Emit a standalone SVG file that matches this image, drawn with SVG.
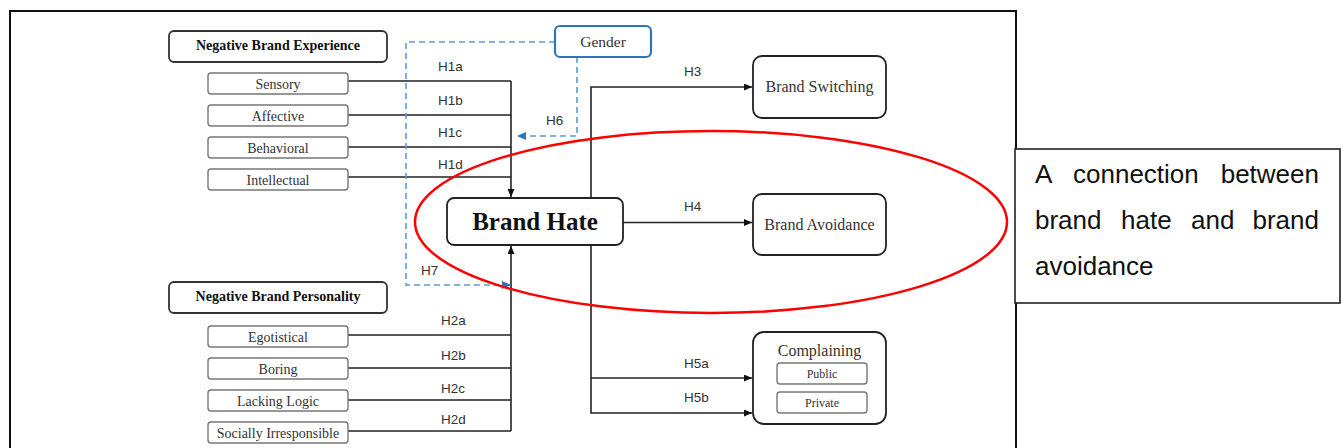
<svg xmlns="http://www.w3.org/2000/svg" width="1343" height="448" viewBox="0 0 1343 448">
  <style>
    .frame { fill: none; stroke: #111; stroke-width: 2; }
    .head { fill: #fff; stroke: #333; stroke-width: 1.8; }
    .item { fill: #fff; stroke: #777; stroke-width: 1.4; }
    .main { fill: #fff; stroke: #222; stroke-width: 1.8; }
    .gender { fill: #fff; stroke: #2e75b6; stroke-width: 2.2; }
    .serif { font-family: "Liberation Serif", "Times New Roman", serif; fill: #333; text-anchor: middle; }
    .hb { font-weight: bold; font-size: 14px; fill: #111; }
    .it { font-size: 14px; }
    .gt { font-size: 15.5px; }
    .big { font-size: 16px; }
    .sm { font-size: 12px; }
    .title { font-size: 25px; font-weight: bold; fill: #111; }
    .hl { font-family: "Liberation Sans", Arial, sans-serif; font-size: 13.5px; fill: #333; }
    .ln { fill: none; stroke: #222; stroke-width: 1.6; }
    .dash { fill: none; stroke: #5b9bd5; stroke-width: 1.6; stroke-dasharray: 6 4; }
    .note { font-family: "Liberation Sans", Arial, sans-serif; font-size: 26px; fill: #111; }
  </style>
  <defs>
    <marker id="arr" markerUnits="userSpaceOnUse" markerWidth="9" markerHeight="8" refX="8" refY="3.5" orient="auto">
      <path d="M0,0 L8,3.5 L0,7 z" fill="#111"/>
    </marker>
    <marker id="arrBlue" markerUnits="userSpaceOnUse" markerWidth="10" markerHeight="9" refX="9" refY="4" orient="auto">
      <path d="M0,0 L9,4 L0,8 z" fill="#2e75b6"/>
    </marker>
  </defs>

  <rect width="1343" height="448" fill="#fff"/>
  <!-- outer frame, open at the bottom -->
  <path class="frame" d="M10,460 V11 H1016 V460"/>

  <!-- connectors -->
  <g id="connectors">
    <path class="ln" d="M348,81 H511 M348,115 H511 M348,147 H511 M348,177 H511"/>
    <path class="ln" d="M511,81 V197" marker-end="url(#arr)"/>
    <path class="ln" d="M348,335 H511 M348,368 H511 M348,400 H511 M348,431 H511"/>
    <path class="ln" d="M511,431 V246" marker-end="url(#arr)"/>
    <path class="ln" d="M591,198 V87 H752" marker-end="url(#arr)"/>
    <path class="ln" d="M623,222.5 H752" marker-end="url(#arr)"/>
    <path class="ln" d="M591,245 V413 H752" marker-end="url(#arr)"/>
    <path class="ln" d="M591,378 H752" marker-end="url(#arr)"/>
    <path class="dash" d="M555,42 H406 V285 H511" marker-end="url(#arrBlue)"/>
    <path class="dash" d="M577,57 V136 H517" marker-end="url(#arrBlue)"/>
    <g class="hl">
      <text x="438" y="71">H1a</text>
      <text x="438" y="105">H1b</text>
      <text x="438" y="137">H1c</text>
      <text x="438" y="169">H1d</text>
      <text x="546" y="125">H6</text>
      <text x="421" y="275">H7</text>
      <text x="441" y="325">H2a</text>
      <text x="441" y="360">H2b</text>
      <text x="441" y="393">H2c</text>
      <text x="441" y="424">H2d</text>
      <text x="684" y="76">H3</text>
      <text x="684" y="211">H4</text>
      <text x="684" y="368">H5a</text>
      <text x="684" y="402">H5b</text>
    </g>
  </g>

  <!-- negative brand experience -->
  <g id="nbe">
    <rect class="head" x="169" y="31" width="218" height="31" rx="5"/>
    <text class="serif hb" x="278" y="50">Negative Brand Experience</text>
  </g>
  <g id="sensory"><rect class="item" x="208" y="73" width="140" height="21" rx="3"/><text class="serif it" x="278" y="88.5">Sensory</text></g>
  <g id="affective"><rect class="item" x="208" y="105" width="140" height="21" rx="3"/><text class="serif it" x="278" y="120.5">Affective</text></g>
  <g id="behavioral"><rect class="item" x="208" y="137" width="140" height="21" rx="3"/><text class="serif it" x="278" y="152.5">Behavioral</text></g>
  <g id="intellectual"><rect class="item" x="208" y="169" width="140" height="21" rx="3"/><text class="serif it" x="278" y="184.5">Intellectual</text></g>

  <!-- negative brand personality -->
  <g id="nbp">
    <rect class="head" x="169" y="282" width="218" height="31" rx="5"/>
    <text class="serif hb" x="278" y="301">Negative Brand Personality</text>
  </g>
  <g id="egotistical"><rect class="item" x="208" y="326" width="140" height="21" rx="3"/><text class="serif it" x="278" y="341.5">Egotistical</text></g>
  <g id="boring"><rect class="item" x="208" y="358" width="140" height="21" rx="3"/><text class="serif it" x="278" y="373.5">Boring</text></g>
  <g id="lacking-logic"><rect class="item" x="208" y="390" width="140" height="21" rx="3"/><text class="serif it" x="278" y="405.5">Lacking Logic</text></g>
  <g id="socially-irresponsible"><rect class="item" x="208" y="422" width="140" height="21" rx="3"/><text class="serif it" x="278" y="437.5">Socially Irresponsible</text></g>

  <!-- moderator -->
  <g id="gender">
    <rect class="gender" x="555" y="26" width="96" height="31" rx="5"/>
    <text class="serif gt" x="603" y="47">Gender</text>
  </g>

  <!-- central construct -->
  <g id="brand-hate">
    <rect class="main" x="447" y="198" width="176" height="47" rx="7"/>
    <text class="serif title" x="535" y="230">Brand Hate</text>
  </g>

  <!-- outcomes -->
  <g id="brand-switching">
    <rect class="main" x="753" y="56" width="133" height="62" rx="9"/>
    <text class="serif big" x="819.5" y="92">Brand Switching</text>
  </g>
  <g id="brand-avoidance">
    <rect class="main" x="753" y="194" width="133" height="61" rx="9"/>
    <text class="serif big" x="819.5" y="230">Brand Avoidance</text>
  </g>
  <g id="complaining">
    <rect class="main" x="753" y="332" width="133" height="92" rx="11"/>
    <text class="serif big" x="819.5" y="356">Complaining</text>
    <rect class="item" x="777" y="363" width="90" height="21" rx="3"/>
    <text class="serif sm" x="822" y="378">Public</text>
    <rect class="item" x="777" y="392" width="90" height="21" rx="3"/>
    <text class="serif sm" x="822" y="407">Private</text>
  </g>

  <!-- highlight ring -->
  <ellipse id="highlight" cx="711" cy="222" rx="296" ry="91" fill="none" stroke="#f00" stroke-width="2.5"/>

  <!-- side note -->
  <g id="note">
    <rect x="1015" y="149" width="325" height="154" fill="#fff" stroke="#222" stroke-width="1.6"/>
    <text class="note" x="1035" y="183">A</text>
    <text class="note" x="1073" y="183">connection</text>
    <text class="note" x="1319" y="183" text-anchor="end">between</text>
    <text class="note" x="1035" y="229">brand</text>
    <text class="note" x="1121" y="229">hate</text>
    <text class="note" x="1191" y="229">and</text>
    <text class="note" x="1319" y="229" text-anchor="end">brand</text>
    <text class="note" x="1035" y="275">avoidance</text>
  </g>
</svg>
